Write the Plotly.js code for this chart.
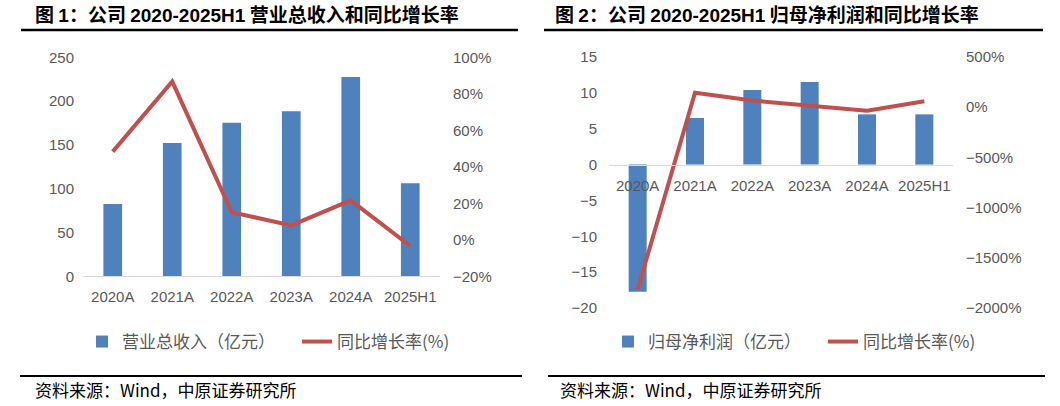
<!DOCTYPE html>
<html><head><meta charset="utf-8">
<script src="https://cdn.plot.ly/plotly-3.0.1.min.js"></script>
<style>html,body{margin:0;padding:0;background:#fff}#chart{width:1060px;height:406px}</style>
</head><body><div id="chart"></div>
<script>
const categories = ['2020A','2021A','2022A','2023A','2024A','2025H1'];
const revenue = [82.5, 152.2, 175.3, 188.3, 227.5, 106.2];
const revenueYoY = [48.3, 86.7, 15.1, 7.9, 21.6, -3.4];
const netProfit = [-17.75, 6.5, 10.4, 11.5, 7.0, 7.0];
const netProfitYoY = [-1813, 144, 66, 16, -35, 60];

const LAT = 'font-family:Liberation Sans, Arial, sans-serif';
const title1 = '图 <span style="' + LAT + '">1</span>：公司 <span style="' + LAT + '">2020-2025H1</span> 营业总收入和同比增长率';
const title2 = '图 <span style="' + LAT + '">2</span>：公司 <span style="' + LAT + '">2020-2025H1</span> 归母净利润和同比增长率';
const legendNames = ['营业总收入（亿元）','同比增长率(%)','归母净利润（亿元）','同比增长率(%)'];
const sourceText = '资料来源：Wind，中原证券研究所';

const W = 1060, H = 406;
const px = v => v / W;
const py = v => 1 - v / H;
const BLUE = '#4F81BD', RED = '#C0504D', GREY = '#595959';
const FONT = 'Liberation Sans, Arial, Noto Sans CJK SC, sans-serif';
const CJK = 'Noto Sans CJK SC, Liberation Sans, sans-serif';

const y1dom = [py(276.3), py(57.3)];
const y2dom = [py(308), py(57)];
const y2range = [-20, 15];
const zeroPos = y2dom[0] + (y2dom[1]-y2dom[0]) * (0 - y2range[0])/(y2range[1]-y2range[0]);

const traces = [
  {type:'bar', x:categories, y:revenue, name:legendNames[0], marker:{color:BLUE}, xaxis:'x', yaxis:'y', legend:'legend'},
  {type:'scatter', mode:'lines', x:categories, y:revenueYoY, name:legendNames[1], line:{color:RED, width:4}, xaxis:'x', yaxis:'y2', legend:'legend'},
  {type:'bar', x:categories, y:netProfit, name:legendNames[2], marker:{color:BLUE}, xaxis:'x2', yaxis:'y3', legend:'legend2'},
  {type:'scatter', mode:'lines', x:categories, y:netProfitYoY, name:legendNames[3], line:{color:RED, width:4}, xaxis:'x2', yaxis:'y4', legend:'legend2'}
];

const tickf = {family: FONT, size: 15, color: GREY};
const layout = {
  width: W, height: H, margin:{l:0,r:0,t:0,b:0, autoexpand:false},
  paper_bgcolor:'#fff', plot_bgcolor:'rgba(0,0,0,0)',
  bargap: 0.686,
  showlegend: true,
  xaxis:{domain:[px(83), px(440)], anchor:'y', showline:true, linecolor:'#D9D9D9', linewidth:1, ticks:'', tickfont:tickf, ticklabelstandoff:7},
  yaxis:{domain:y1dom, range:[0,250], dtick:50, showgrid:false, zeroline:false, showline:false, ticks:'', tickfont:tickf, ticklabelstandoff:8},
  yaxis2:{overlaying:'y', side:'right', anchor:'x', range:[-20,100], dtick:20, ticksuffix:'%', showgrid:false, zeroline:false, ticks:'', tickfont:tickf, ticklabelstandoff:12},
  xaxis2:{domain:[px(609), px(953)], anchor:'free', position: zeroPos, showline:true, linecolor:'#D9D9D9', linewidth:1, ticks:'', tickfont:tickf, ticklabelstandoff:7},
  yaxis3:{domain:y2dom, anchor:'x2', range:y2range, dtick:5, showgrid:false, zeroline:false, ticks:'', tickfont:tickf, ticklabelstandoff:11},
  yaxis4:{overlaying:'y3', side:'right', anchor:'x2', range:[-2000,500], dtick:500, ticksuffix:'%', showgrid:false, zeroline:false, ticks:'', tickfont:tickf, ticklabelstandoff:12},
  legend:{orientation:'h', x:px(82), xanchor:'left', y:py(342), yanchor:'middle', entrywidth:170, entrywidthmode:'pixels', font:{family:CJK, size:17, color:GREY}, bgcolor:'rgba(0,0,0,0)'},
  legend2:{orientation:'h', x:px(608), xanchor:'left', y:py(342), yanchor:'middle', entrywidth:170, entrywidthmode:'pixels', font:{family:CJK, size:17, color:GREY}, bgcolor:'rgba(0,0,0,0)'},
  annotations:[
    {text:title1, xref:'paper', yref:'paper', x:px(33), y:py(14), xanchor:'left', yanchor:'middle', showarrow:false, font:{family:CJK, size:19, color:'#000', weight:'bold'}},
    {text:title2, xref:'paper', yref:'paper', x:px(553), y:py(14), xanchor:'left', yanchor:'middle', showarrow:false, font:{family:CJK, size:19, color:'#000', weight:'bold'}},
    {text:sourceText, xref:'paper', yref:'paper', x:px(33), y:py(389), xanchor:'left', yanchor:'middle', showarrow:false, font:{family:CJK, size:17, color:'#000'}},
    {text:sourceText, xref:'paper', yref:'paper', x:px(558), y:py(389), xanchor:'left', yanchor:'middle', showarrow:false, font:{family:CJK, size:17, color:'#000'}}
  ],
  shapes:[
    {type:'line', xref:'paper', yref:'paper', x0:px(21), x1:px(518), y0:py(30), y1:py(30), line:{color:'#000', width:2.5}},
    {type:'line', xref:'paper', yref:'paper', x0:px(544), x1:px(1043), y0:py(30), y1:py(30), line:{color:'#000', width:2.5}},
    {type:'line', xref:'paper', yref:'paper', x0:px(20), x1:px(522), y0:py(376), y1:py(376), line:{color:'#000', width:2}},
    {type:'line', xref:'paper', yref:'paper', x0:px(548), x1:px(1045), y0:py(376), y1:py(376), line:{color:'#000', width:2}}
  ]
};
Plotly.newPlot('chart', traces, layout, {staticPlot:true, displayModeBar:false});
</script></body></html>
